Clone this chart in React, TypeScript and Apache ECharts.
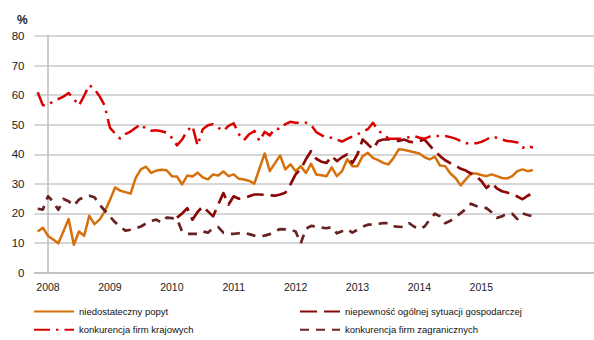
import React, { useEffect, useRef } from "react";
import * as echarts from "echarts";

// Monthly observations, first value = Nov 2007 (month index -2, Jan 2008 = 0)
const FIRST_MONTH = -2;

const years = ["2008", "2009", "2010", "2011", "2012", "2013", "2014", "2015"];
const yearTickMonths = [0, 12, 24, 36, 48, 60, 72, 84];

const seriesNames = [
  "niedostateczny popyt",
  "niepewność ogólnej sytuacji gospodarczej",
  "konkurencja firm krajowych",
  "konkurencja firm zagranicznych",
];

const popyt = [
  13.9, 15.2,
  12.4, 11.2, 9.9, 14, 18.1, 9.4, 13.9, 12.4, 19.2, 16.4, 17.9, 20.7,
  24.5, 28.8, 27.7, 27.2, 26.7, 32, 34.9, 35.8, 33.7, 34.5, 34.8, 34.6,
  32.6, 32.5, 29.8, 32.8, 32.5, 33.8, 32.2, 31.5, 33.2, 32.8, 34.2, 32.6,
  33.2, 31.7, 31.5, 31, 30.1, 35.2, 40.3, 34.3, 37, 39.6, 34.9, 36.6,
  34.3, 36, 33.7, 36.8, 33.2, 32.9, 32.6, 35.6, 32.6, 34.3, 38.3, 36,
  36, 39.4, 40.5, 38.8, 38, 37.1, 36.6, 38.8, 41.7, 41.5, 41.1, 40.7,
  40.3, 39, 38.3, 39.2, 36.2, 36, 33.5, 32, 29.5, 31.5, 33.5, 33.5,
  33, 32.6, 33.2, 32.6, 32, 31.8, 32.6, 34.3, 34.9, 34.3, 34.7,
];

const niepewnosc = [
  null, null,
  null, null, null, null, null, null, null, null, null, null, null, null,
  null, null, null, null, null, null, null, null, null, null, null, null,
  null, 18.6, 20, 21.8, 17.9, 20.5, 22.4, 20.7, 19, 23, 26.9, 23,
  25.8, 25, 25.2, 25.8, 26.4, 26.4, 26.3, 26.1, 26, 26.4, 27, 29.8,
  33.2, 35, 38.3, 41.1, 38.5, 37.5, 37.1, 39.4, 37.7, 39, 40, 37,
  40, 45, 43.4, 41.7, 44.5, 45, 45, 44.7, 44.5, 45, 44.3, 44,
  44.5, 45, 43, 41, 39.4, 38, 37, 36.2, 35.1, 34.5, 33.5, 32.6,
  31, 28.6, 30.3, 28.5, 27.5, 27.1, 26.5, 25.7, 24.8, 26, 27,
];

const krajowe = [
  61, 56.6,
  56.6, 58, 58.7, 59.5, 60.7, 58.7, 56.5, 59.8, 63.4, 62, 59.6, 56.4,
  49, 47, 45.3, 46.8, 47.7, 49, 50.2, 48.5, 48, 48.1, 47.8, 47.3,
  45.6, 43, 45, 48, 49.6, 43, 48.5, 49.8, 50.2, 49, 47.9, 49.6,
  50.5, 46.8, 44.8, 46.8, 47.9, 44.5, 47.6, 46.4, 48.7, 48.5, 50.2, 51,
  50.7, 50.7, 50.7, 50, 47.5, 46.5, 45.6, 45.6, 45, 44.3, 45.2, 46,
  46.8, 47.6, 48.5, 50.7, 48, 46.8, 45.3, 45.3, 45.3, 45.3, 45.8, 46.2,
  45.6, 45.3, 46, 46.2, 46.2, 46.2, 45.8, 45.3, 44.5, 43.7, 43.7, 43.7,
  44.2, 45, 46, 45.6, 45, 44.5, 44.3, 44, 42.2, 43, 42.2,
];

const zagraniczne = [
  21.6, 21.3,
  25.8, 24, 21.2, 24.9, 24.1, 22.6, 24.7, 25.5, 26, 25.5, 23, 21,
  19, 17, 15.5, 14.2, 14.5, 15, 15.6, 16.6, 17.5, 17.9, 16.9, 18.6,
  18.4, 18.1, 13.9, 13.1, 13.1, 13.1, 13.9, 13.5, 15, 15.4, 13.5, 13.1,
  13.1, 13.3, 13.5, 13, 12.5, 12.2, 12.5, 13, 14, 14.7, 14.6, 14.5,
  13.9, 9.9, 14.8, 15.8, 15.6, 15.2, 15, 15.4, 13.3, 14, 14.7, 13.5,
  14.5, 15.5, 16.2, 16.2, 16.5, 16.7, 16.7, 15.6, 15.5, 15.4, 16.7, 15.5,
  14.7, 15.6, 17.9, 19.9, 19, 16.7, 17.5, 18.8, 20.1, 21.5, 23.3, 22.5,
  22, 21.8, 20.4, 18.5, 19, 20, 19.9, 18.1, 20, 19.5, 19,
];

const toPairs = (arr: (number | null)[]) =>
  arr.map((v, i) => [FIRST_MONTH + i, v]);

const FONT = "'Liberation Sans', Arial, sans-serif";

export default function App() {
  const ref = useRef<HTMLDivElement>(null);

  useEffect(() => {
    if (!ref.current) return;
    const chart = echarts.init(ref.current, undefined, { renderer: "svg" });
    const lineSeries = (
      name: string,
      data: (number | null)[],
      color: string,
      width: number,
      type: any
    ) => ({
      name,
      type: "line",
      data: toPairs(data),
      symbol: "none",
      connectNulls: false,
      itemStyle: { color },
      lineStyle: { color, width, type, cap: "butt", join: "round" },
    });

    const legendBase = {
      top: 306,
      orient: "vertical",
      padding: 0,
      itemWidth: 40,
      itemHeight: 14,
      itemGap: 7,
      itemStyle: { opacity: 0, borderWidth: 0 },
      textStyle: { fontSize: 9.5, color: "#111", fontFamily: FONT },
    };

    chart.setOption({
      animation: false,
      textStyle: { fontFamily: FONT },
      title: {
        text: "%",
        left: 12,
        top: 9,
        textStyle: { fontSize: 12, fontWeight: "bold", color: "#222", fontFamily: FONT },
      },
      grid: { left: 34.5, right: 0, top: 36, bottom: 67.4, containLabel: false },
      xAxis: {
        type: "value",
        min: -2.62,
        max: 105.85,
        axisLine: { show: true, onZero: false, lineStyle: { color: "#bdbdbd", width: 1.5 } },
        axisTick: { show: false },
        splitLine: { show: false },
        axisLabel: {
          customValues: yearTickMonths,
          formatter: (v: number) => years[yearTickMonths.indexOf(v)] ?? "",
          fontSize: 10.5,
          color: "#222",
          margin: 9,
          fontFamily: FONT,
        },
      },
      yAxis: {
        type: "value",
        min: 0,
        max: 80,
        interval: 10,
        axisLine: { show: true, lineStyle: { color: "#bdbdbd", width: 1.5 } },
        axisTick: { show: false },
        splitLine: { lineStyle: { color: "#c8c8c8", width: 1.5 } },
        axisLabel: { fontSize: 11.5, color: "#222", margin: 10, fontFamily: FONT },
      },
      legend: [
        { ...legendBase, left: 33, data: [seriesNames[0], seriesNames[2]] },
        { ...legendBase, left: 299, data: [seriesNames[1], seriesNames[3]] },
      ],
      series: [
        lineSeries(seriesNames[0], popyt, "#D5700B", 2.5, "solid"),
        lineSeries(seriesNames[1], niepewnosc, "#8A0808", 2.7, [17, 7]),
        lineSeries(seriesNames[2], krajowe, "#DA0000", 2.5, [16, 6, 2.5, 6]),
        lineSeries(seriesNames[3], zagraniczne, "#682222", 2.7, [9, 7]),
      ],
    });
    return () => chart.dispose();
  }, []);

  return (
    <div
      ref={ref}
      style={{ position: "absolute", left: 0, top: 0, width: 594, height: 340, background: "#fff" }}
    />
  );
}
